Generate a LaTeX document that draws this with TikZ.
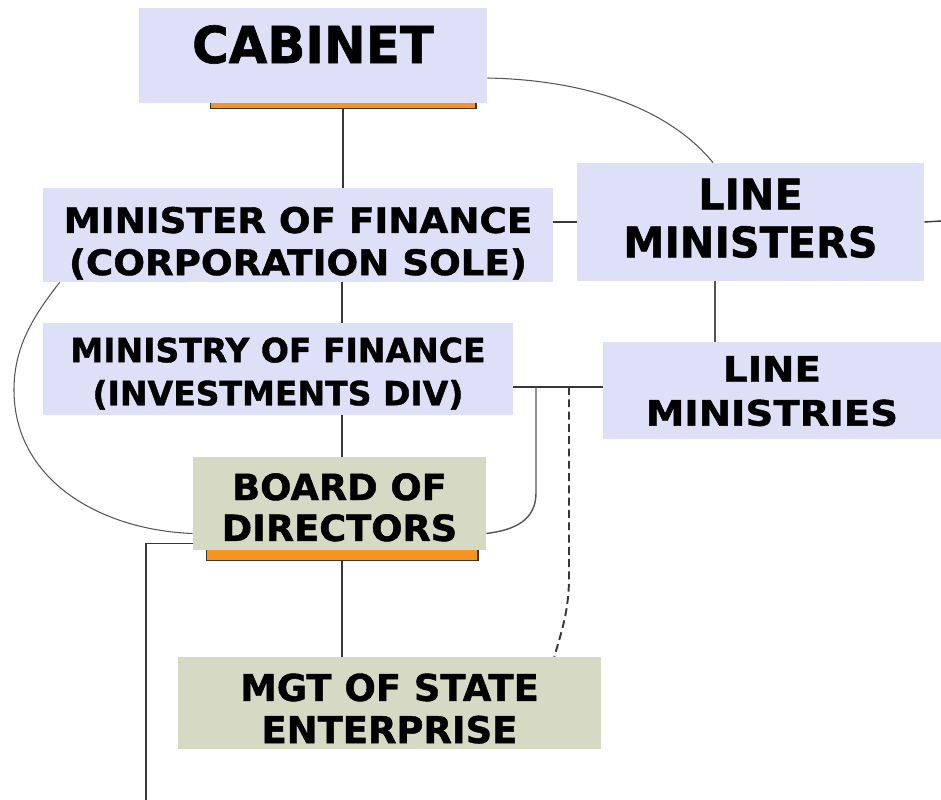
\documentclass[tikz,border=0pt]{standalone}
\usepackage{fontspec}
\setmainfont{DejaVu Sans}[BoldFeatures={FakeBold=1.2}]
\usepackage{graphicx}
\usepackage{xcolor}

\definecolor{boxlilac}{RGB}{221,224,246}
\definecolor{boxsage}{RGB}{214,217,195}
\definecolor{barorange}{RGB}{247,147,30}
\definecolor{linegray}{RGB}{55,55,55}
\definecolor{arcgray}{RGB}{85,85,85}

% #1 = drop of the ink, #2 = horizontal stretch, #3 = lines
\newcommand{\stretchtext}[3][5pt]{\raisebox{-#1}[\height][\depth]{\scalebox{#2}[1]{\begin{tabular}{@{}c@{}}#3\end{tabular}}}}

\begin{document}
\begin{tikzpicture}[x=0.02cm, y=-0.02cm,
  orgbox/.style={inner sep=0pt, align=center},
  lilac/.style={orgbox, fill=boxlilac},
  sage/.style={orgbox, fill=boxsage},
  bar/.style={draw=linegray, fill=barorange, line width=0.6pt, inner sep=0pt},
  link/.style={draw=linegray, line width=0.8pt},
  softline/.style={draw=arcgray, line width=0.6pt}
]
\useasboundingbox (0,0) rectangle (941,799);

% orange bars under the boxes
\node[bar, minimum width=5.32cm, minimum height=0.18cm] (cabbar) at (343,104) {};
\node[bar, minimum width=5.44cm, minimum height=0.22cm] (boardbar) at (342,555) {};

% boxes
\node[lilac, minimum width=6.96cm, minimum height=1.90cm, text height=0.74cm, text depth=0.44cm,
  font=\bfseries\fontsize{29}{34}\selectfont] (cabinet) at (313,55.5) {\scalebox{0.98}[1]{CABINET}};
\node[lilac, minimum width=10.2cm, minimum height=1.88cm,
  font=\bfseries\fontsize{20}{24}\selectfont] (minister) at (298,235)
  {\stretchtext[6pt]{1.06}{MINISTER OF FINANCE\\(CORPORATION SOLE)}};
\node[lilac, minimum width=6.94cm, minimum height=2.36cm,
  font=\bfseries\fontsize{24}{27.3}\selectfont] (lineministers) at (750.5,222)
  {\stretchtext[1pt]{0.98}{LINE\\MINISTERS}};
\node[lilac, minimum width=9.4cm, minimum height=1.84cm,
  font=\bfseries\fontsize{19}{24.5}\selectfont] (ministry) at (278,369)
  {\stretchtext[3.5pt]{0.99}{MINISTRY OF FINANCE\\(INVESTMENTS DIV)}};
\node[lilac, minimum width=6.76cm, minimum height=1.94cm,
  font=\bfseries\fontsize{20}{25}\selectfont] (lineministries) at (772,390.5)
  {\stretchtext[2.5pt]{1.10}{LINE\\MINISTRIES}};
\node[sage, minimum width=5.86cm, minimum height=1.86cm,
  font=\bfseries\fontsize{20.5}{23.3}\selectfont] (board) at (339.5,503.5)
  {\stretchtext[5pt]{1.02}{BOARD OF\\DIRECTORS}};
\node[sage, minimum width=8.46cm, minimum height=1.84cm,
  font=\bfseries\fontsize{21}{24}\selectfont] (mgt) at (389.5,703)
  {\stretchtext[6pt]{1.0}{MGT OF STATE\\ENTERPRISE}};

% helper points
\coordinate (spine) at (342,0);
\coordinate (lmx) at (715,0);
\coordinate (jn) at (0,387);
\coordinate (edgeR) at (941,221);
\coordinate (bottomL) at (146,800);

% tree links
\draw[link] (cabbar.south) -- (cabbar.south |- minister.north);
\draw[link] (spine |- minister.south) -- (spine |- ministry.north);
\draw[link] (spine |- ministry.south) -- (spine |- board.north);
\draw[link] (boardbar.south) -- (boardbar.south |- mgt.north);
\draw[link] (lineministers.west -| minister.east) -- (lineministers.west);
\draw[link] (lineministers.east) -- (edgeR);
\draw[softline] (lmx |- lineministers.south) -- (lmx |- lineministries.north);
\draw[link] (ministry.east |- jn) -- (lineministries.west |- jn);
\draw[link] ([yshift=-0.8cm]board.west) -| (bottomL);

% curved links
\draw[softline] ([yshift=-0.45cm]cabinet.east) .. controls (590,80) and (670,110) .. ([xshift=-0.75cm]lineministers.north);
\draw[softline] ([xshift=0.34cm]minister.south west) .. controls (30,320) and (14,350) .. (14,390)
  .. controls (14,480) and (100,530) .. ([yshift=-0.6cm]board.west);
\draw[softline, line width=0.8pt] (536,387) -- (536,493) .. controls (536,520) and (515,530) .. ([yshift=-0.6cm]board.east);
\draw[link, line width=1.1pt, dash pattern=on 4.5pt off 2.5pt] (569,387) -- (569,577) .. controls (569,610) and (562,630) .. ([xshift=-0.94cm]mgt.north east);
\end{tikzpicture}
\end{document}
